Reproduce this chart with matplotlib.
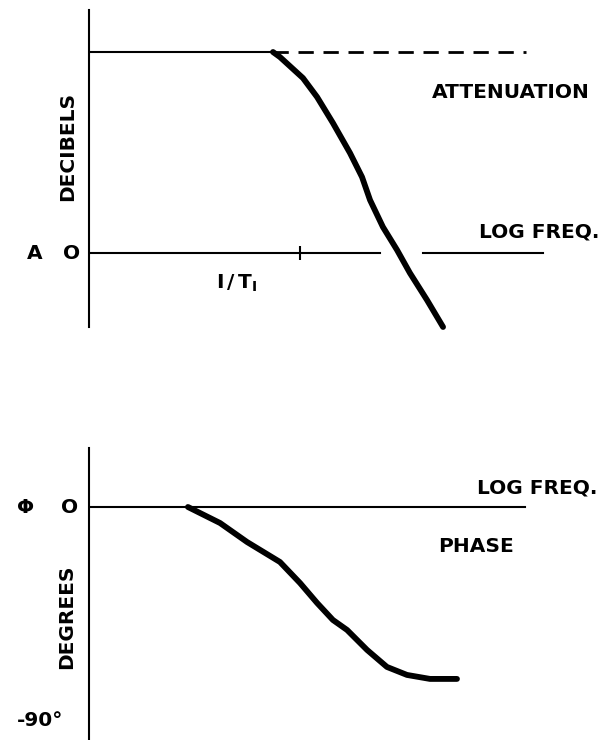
import numpy as np
import matplotlib.pyplot as plt

# Magnitude (attenuation) curve: log freq in units where 1/T1 = 1, decibels
att_x = [0.872, 0.905, 1.014, 1.081, 1.156, 1.237, 1.294, 1.332, 1.393, 1.460, 1.521, 1.602, 1.678]
att_db = [20.0, 19.5, 17.41, 15.52, 12.94, 9.95, 7.56, 5.27, 2.59, 0.30, -1.99, -4.68, -7.36]

# Phase curve: log freq, degrees
ph_x = [0.469, 0.621, 0.749, 0.905, 1.0, 1.081, 1.156, 1.223, 1.318, 1.412, 1.507, 1.616, 1.744]
ph_deg = [0, -6.86, -15.0, -23.57, -32.57, -41.14, -48.43, -52.71, -61.29, -68.57, -72.0, -73.71, -73.71]

# Asymptote level and line extents
asym_db = 20.0
asym_end = 2.071
zero_segs = [(0.0, 1.379), (1.583, 2.152)]
phase_zero_end = 2.066
break_freq = 1.0

fs = 14.5
fw = 'bold'
lw_axis = 1.5
lw_curve = 4.2

W, H = 611, 740
fig = plt.figure(figsize=(W / 100, H / 100), dpi=100)

def px_axes(left, top, right, bottom):
    return fig.add_axes([left / W, 1 - bottom / H, (right - left) / W, (bottom - top) / H])

def label(ax, x, y, s, **kw):
    ax.text(x, y, s, fontsize=fs, fontweight=fw, ha='center', va='center', **kw)

# ---------------- attenuation ----------------
ax1 = px_axes(89, 10, 611, 330)
ax1.set_xlim(0, 2.474)
ax1.set_ylim(-7.66, 24.18)
for s in ['top', 'right', 'bottom']:
    ax1.spines[s].set_visible(False)
ax1.spines['left'].set_linewidth(lw_axis)
ax1.spines['left'].set_bounds(-7.36, 24.18)
ax1.set_xticks([])
ax1.set_yticks([])

ax1.plot([0, att_x[0]], [asym_db, asym_db], color='black', lw=lw_axis)
ax1.plot([att_x[0], asym_end], [asym_db, asym_db], color='black', lw=2,
         linestyle=(0, (5.5, 3.5)))
for a, b in zero_segs:
    ax1.plot([a, b], [0, 0], color='black', lw=lw_axis)
ax1.plot(break_freq, 0, marker='|', ms=10, mew=lw_axis, color='black')
ax1.plot(att_x, att_db, color='black', lw=lw_curve, solid_capstyle='round',
         solid_joinstyle='round', clip_on=False)

label(ax1, 1.997, 16.0, 'ATTENUATION')
label(ax1, 2.133, 2.09, 'LOG FREQ.')
label(ax1, -0.1, 10.65, 'DECIBELS', rotation=90)
label(ax1, -0.256, 0, 'A')
label(ax1, -0.081, 0, 'O')
ax1.text(0.70, -3.0, r'$\mathbf{I\,/\,T_I}$', fontsize=fs, ha='center', va='center')

# ---------------- phase ----------------
ax2 = px_axes(89, 448, 611, 740)
ax2.set_xlim(0, 2.474)
ax2.set_ylim(-99.9, 25.3)
for s in ['top', 'right', 'bottom']:
    ax2.spines[s].set_visible(False)
ax2.spines['left'].set_linewidth(lw_axis)
ax2.set_xticks([])
ax2.set_yticks([])

ax2.plot([0, phase_zero_end], [0, 0], color='black', lw=lw_axis)
ax2.plot(ph_x, ph_deg, color='black', lw=lw_curve, solid_capstyle='round',
         solid_joinstyle='round')

label(ax2, 2.123, 8.1, 'LOG FREQ.')
label(ax2, 1.834, -17.1, 'PHASE')
label(ax2, -0.104, -47.1, 'DEGREES', rotation=90)
label(ax2, -0.303, 0, '\u03a6')
label(ax2, -0.09, 0, 'O')
label(ax2, -0.232, -91.7, '-90\u00b0')

fig.savefig('out.png', dpi=100)
